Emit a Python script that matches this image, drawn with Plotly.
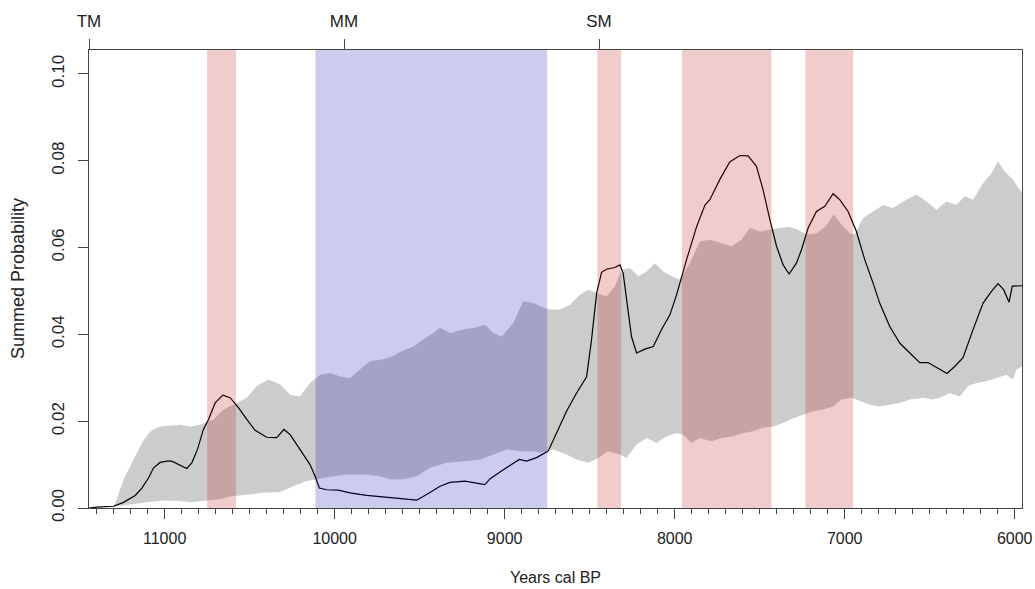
import plotly.graph_objects as go

# ---------------- data ----------------
line_years = [11445, 11399, 11301, 11242, 11173, 11134, 11095, 11066, 11027, 10987, 10958, 10919,
              10870, 10840, 10807, 10772, 10742, 10703, 10658, 10615, 10566, 10517, 10468, 10400,
              10341, 10298, 10262, 10204, 10145, 10115, 10090, 10047, 9978, 9910, 9812, 9733,
              9635, 9518, 9459, 9380, 9322, 9233, 9116, 9087, 9008, 8914, 8871, 8812, 8744,
              8694, 8636, 8577, 8518, 8489, 8459, 8430, 8401, 8352, 8322, 8303, 8279, 8254,
              8224, 8175, 8126, 8077, 8028, 7989, 7930, 7871, 7822, 7793, 7734, 7676, 7617,
              7568, 7519, 7480, 7440, 7401, 7362, 7327, 7284, 7254, 7215, 7166, 7117, 7068,
              7029, 6980, 6931, 6882, 6833, 6794, 6735, 6676, 6617, 6558, 6510, 6451, 6398,
              6353, 6304, 6245, 6186, 6137, 6098, 6065, 6033, 6014, 5990, 5957]
line_spd = [0.0000, 0.0002, 0.0004, 0.0013, 0.0029, 0.0046, 0.0069, 0.0092, 0.0105, 0.0108, 0.0108, 0.0100,
            0.0091, 0.0104, 0.0135, 0.0181, 0.0204, 0.0242, 0.0260, 0.0254, 0.0231, 0.0204, 0.0179, 0.0163,
            0.0162, 0.0181, 0.0169, 0.0135, 0.0100, 0.0073, 0.0046, 0.0042, 0.0041, 0.0035, 0.0029, 0.0026,
            0.0023, 0.0018, 0.0031, 0.0050, 0.0059, 0.0062, 0.0054, 0.0067, 0.0088, 0.0112, 0.0108, 0.0116, 0.0131,
            0.0173, 0.0223, 0.0265, 0.0302, 0.0388, 0.0495, 0.0543, 0.0550, 0.0554, 0.0560, 0.0541, 0.0464, 0.0395,
            0.0357, 0.0366, 0.0372, 0.0411, 0.0445, 0.0491, 0.0572, 0.0648, 0.0698, 0.0710, 0.0757, 0.0797, 0.0812,
            0.0811, 0.0787, 0.0733, 0.0664, 0.0603, 0.0560, 0.0539, 0.0564, 0.0595, 0.0645, 0.0683, 0.0695, 0.0724,
            0.0710, 0.0683, 0.0637, 0.0572, 0.0518, 0.0472, 0.0418, 0.0380, 0.0357, 0.0335, 0.0335, 0.0322, 0.0310,
            0.0326, 0.0346, 0.0411, 0.0472, 0.0499, 0.0517, 0.0503, 0.0474, 0.0511, 0.0511, 0.0512]

upper_years = [11300, 11242, 11183, 11134, 11085, 11027, 10909, 10850, 10791, 10713, 10654, 10576,
               10517, 10458, 10390, 10321, 10262, 10204, 10145, 10086, 10027, 9968, 9910, 9851,
               9792, 9723, 9664, 9606, 9537, 9478, 9419, 9380, 9322, 9243, 9175, 9116, 9067,
               9018, 8949, 8891, 8832, 8792, 8734, 8675, 8616, 8557, 8508, 8459, 8401, 8352,
               8312, 8263, 8214, 8165, 8116, 8067, 8018, 7969, 7911, 7852, 7793, 7724, 7666,
               7607, 7558, 7499, 7440, 7381, 7323, 7274, 7225, 7166, 7111, 7064, 7019, 6970,
               6941, 6892, 6833, 6774, 6715, 6656, 6578, 6519, 6460, 6402, 6343, 6294, 6245,
               6186, 6137, 6098, 6059, 6010, 5957]
upper_spd = [0.0000, 0.0065, 0.0112, 0.0150, 0.0177, 0.0188, 0.0192, 0.0188, 0.0192, 0.0204, 0.0227, 0.0242,
             0.0254, 0.0281, 0.0296, 0.0285, 0.0261, 0.0257, 0.0288, 0.0307, 0.0311, 0.0303, 0.0299, 0.0319,
             0.0338, 0.0342, 0.0349, 0.0361, 0.0372, 0.0388, 0.0403, 0.0415, 0.0403, 0.0411, 0.0415, 0.0422, 0.0403,
             0.0395, 0.0426, 0.0476, 0.0472, 0.0465, 0.0457, 0.0457, 0.0468, 0.0491, 0.0503, 0.0495, 0.0488, 0.0510,
             0.0549, 0.0553, 0.0534, 0.0545, 0.0564, 0.0545, 0.0534, 0.0526, 0.0564, 0.0614, 0.0618, 0.0610, 0.0603,
             0.0618, 0.0645, 0.0637, 0.0641, 0.0645, 0.0647, 0.0641, 0.0630, 0.0633, 0.0649, 0.0676, 0.0653, 0.0633,
             0.0630, 0.0668, 0.0683, 0.0698, 0.0691, 0.0706, 0.0722, 0.0706, 0.0687, 0.0706, 0.0698, 0.0718, 0.0710,
             0.0748, 0.0771, 0.0798, 0.0775, 0.0756, 0.0725]

lower_years = [11300, 11281, 11105, 11007, 10909, 10850, 10752, 10674, 10625, 10576, 10497, 10419,
               10321, 10243, 10164, 10105, 10027, 9929, 9812, 9733, 9674, 9596, 9518, 9439,
               9341, 9224, 9145, 9067, 8988, 8910, 8832, 8792, 8714, 8636, 8577, 8508, 8450,
               8391, 8322, 8283, 8224, 8165, 8107, 8048, 7989, 7950, 7901, 7852, 7783, 7724,
               7656, 7597, 7538, 7480, 7421, 7362, 7303, 7244, 7186, 7127, 7068, 7019, 6960,
               6911, 6852, 6794, 6735, 6676, 6617, 6539, 6480, 6441, 6382, 6323, 6274, 6225,
               6166, 6107, 6049, 6010, 5990, 5957]
lower_spd = [0.0000, 0.0004, 0.0013, 0.0017, 0.0016, 0.0013, 0.0017, 0.0020, 0.0026, 0.0027, 0.0031, 0.0035,
             0.0037, 0.0050, 0.0062, 0.0066, 0.0072, 0.0077, 0.0077, 0.0073, 0.0066, 0.0066, 0.0073, 0.0093,
             0.0104, 0.0108, 0.0112, 0.0123, 0.0135, 0.0131, 0.0131, 0.0127, 0.0135, 0.0123, 0.0112, 0.0104, 0.0115,
             0.0131, 0.0123, 0.0115, 0.0146, 0.0161, 0.0150, 0.0165, 0.0173, 0.0169, 0.0150, 0.0161, 0.0154, 0.0161,
             0.0165, 0.0173, 0.0177, 0.0185, 0.0188, 0.0196, 0.0207, 0.0215, 0.0223, 0.0227, 0.0234, 0.0250, 0.0254,
             0.0246, 0.0238, 0.0234, 0.0238, 0.0242, 0.0250, 0.0254, 0.0250, 0.0254, 0.0265, 0.0257, 0.0281, 0.0288,
             0.0292, 0.0300, 0.0307, 0.0296, 0.0319, 0.0326]

red_bands = [(10750, 10580), (8455, 8315), (7957, 7431), (7231, 6950)]
blue_bands = [(10113, 8750)]

x_ticks = [11000, 10000, 9000, 8000, 7000, 6000]
x_ticktext = ["11000", "10000", "9000", "8000", "7000", "6000"]
y_ticks = [0.00, 0.02, 0.04, 0.06, 0.08, 0.10]
y_ticktext = ["0.00", "0.02", "0.04", "0.06", "0.08", "0.10"]
top_ticks = [11445, 9945, 8445]
top_ticktext = ["TM", "MM", "SM"]

x_range = [11445, 5957]
y_range = [0, 0.1055]

# ---------------- figure ----------------
FONT = "Liberation Sans, Arial, sans-serif"
TXT = "#222222"
AX = "#444444"
FS = 16

fig = go.Figure()

fig.add_trace(go.Scatter(
    x=upper_years + lower_years[::-1],
    y=upper_spd + lower_spd[::-1],
    fill="toself", fillcolor="#cccccc", mode="lines",
    line=dict(width=0, color="#cccccc"), hoverinfo="skip", showlegend=False))

fig.add_trace(go.Scatter(
    x=line_years, y=line_spd, mode="lines",
    line=dict(color="black", width=1.2), showlegend=False))

# invisible trace so the top axis is drawn
fig.add_trace(go.Scatter(x=top_ticks, y=[0, 0, 0], xaxis="x2", mode="markers",
                         marker=dict(opacity=0), hoverinfo="skip", showlegend=False))

for a, b in red_bands:
    fig.add_shape(type="rect", xref="x", yref="paper", x0=a, x1=b, y0=0, y1=1,
                  fillcolor="rgba(180,0,0,0.2)", line=dict(width=0), layer="above")
for a, b in blue_bands:
    fig.add_shape(type="rect", xref="x", yref="paper", x0=a, x1=b, y0=0, y1=1,
                  fillcolor="rgba(0,0,175,0.2)", line=dict(width=0), layer="above")

fig.update_layout(
    width=1035, height=589,
    margin=dict(l=89, r=13, t=50, b=81, autoexpand=False),
    paper_bgcolor="white", plot_bgcolor="white",
    font=dict(family=FONT, size=FS, color=TXT),
    showlegend=False,
    xaxis=dict(
        range=x_range, showgrid=False, zeroline=False, automargin=False,
        showline=True, linecolor=AX, linewidth=1,
        tickmode="array", tickvals=x_ticks, ticktext=x_ticktext,
        ticks="outside", ticklen=10, tickcolor=AX, tickwidth=1,
        ticklabelstandoff=6,
        tickfont=dict(family=FONT, size=FS, color=TXT),
        minor=dict(ticks="outside", ticklen=5, dtick=100, tick0=0, tickcolor=AX, tickwidth=1, showgrid=False),
    ),
    xaxis2=dict(
        range=x_range, overlaying="x", side="top", showgrid=False, zeroline=False, automargin=False,
        showline=True, linecolor=AX, linewidth=1,
        tickmode="array", tickvals=top_ticks, ticktext=top_ticktext,
        ticks="outside", ticklen=10, tickcolor=AX, tickwidth=1,
        ticklabelstandoff=5,
        tickfont=dict(family=FONT, size=17, color=TXT),
    ),
    yaxis=dict(
        range=y_range, showgrid=False, zeroline=False, automargin=False,
        showline=True, mirror=True, linecolor=AX, linewidth=1,
        tickmode="array", tickvals=y_ticks, ticktext=y_ticktext,
        ticks="outside", ticklen=10, tickcolor=AX, tickwidth=1,
        tickangle=-90, ticklabelstandoff=7,
        tickfont=dict(family=FONT, size=17, color=TXT),
    ),
    annotations=[
        dict(text="Years cal BP", xref="paper", yref="paper", x=0.5, y=0,
             yshift=-69, showarrow=False, xanchor="center", yanchor="middle",
             font=dict(family=FONT, size=FS, color=TXT)),
        dict(text="Summed Probability", xref="paper", yref="paper", x=0, y=0.5,
             xshift=-71, showarrow=False, xanchor="center", yanchor="middle",
             textangle=-90, font=dict(family=FONT, size=18, color=TXT)),
    ],
)

fig.write_html("out.html",
               config={"displayModeBar": False},
               post_script="document.body.style.margin='0px';document.body.style.overflow='hidden';")
